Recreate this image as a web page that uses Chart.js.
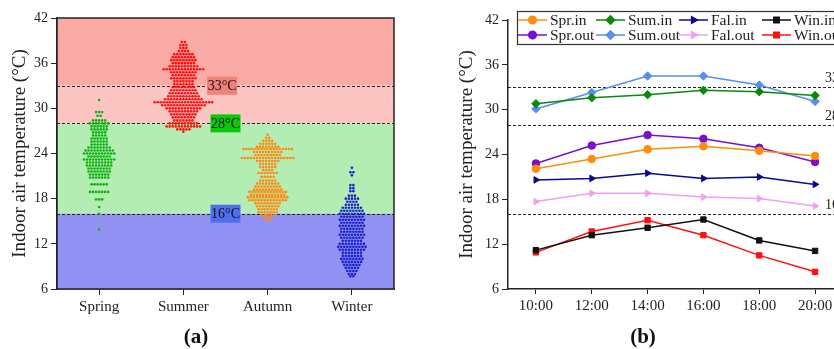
<!DOCTYPE html>
<html>
<head>
<meta charset="utf-8">
<script src="https://cdn.jsdelivr.net/npm/chart.js@4.4.1/dist/chart.umd.min.js"></script>
<style>
  body { margin: 0; width: 834px; height: 349px; overflow: hidden; background: #fff; position: relative; }
  #wrapA { position: absolute; left: 0; top: 0; width: 420px; height: 349px; }
  #wrapB { position: absolute; left: 420px; top: 0; width: 440px; height: 349px; }
  .tag { position: absolute; top: 324px; font: bold 21px "Liberation Serif", serif; color: #111; transform: translateX(-50%); }
</style>
</head>
<body>
<div id="wrapA"><canvas id="chartA" width="420" height="349"></canvas></div>
<div id="wrapB"><canvas id="chartB" width="440" height="349"></canvas></div>
<div class="tag" style="left:196px">(a)</div>
<div class="tag" style="left:643px">(b)</div>
<script>
// ---- panel (a) data: swarm rows as [temperature, number of dots] ----
const seasons = ['Spring', 'Summer', 'Autumn', 'Winter'];
const springRows = [[31.1,1],[29.5,3],[29.0,2],[28.4,5],[28.0,7],[27.6,6],[27.2,6],[26.8,5],[26.4,5],[26.0,6],
  [25.6,6],[25.2,6],[24.8,8],[24.4,10],[24.0,11],[23.6,8],[23.2,11],[22.8,9],[22.4,9],[22.0,8],[21.6,8],[21.2,7],
  [20.8,7],[19.9,6],[18.9,7],[17.9,3],[16.9,1],[16.0,1],[13.9,1]];
const summerRows = [[38.8,2],[38.4,3],[38.0,3],[37.6,4],[37.2,7],[36.8,8],[36.4,9],[36.0,8],[35.6,10],[35.2,14],
  [34.8,9],[34.4,8],[34.0,9],[33.6,7],[33.2,7],[32.8,8],[32.4,9],[32.0,10],[31.6,11],[31.2,13],[30.8,20],[30.4,15],
  [30.0,12],[29.6,10],[29.2,9],[28.8,8],[28.4,7],[28.0,10],[27.6,12],[27.2,5],[26.9,1]];
const autumnRows = [[26.5,1],[26.1,2],[25.7,4],[25.3,6],[24.9,8],[24.6,17],[24.2,10],[23.8,9],[23.4,18],[23.0,8],
  [22.6,6],[22.2,6],[21.8,4],[21.4,7],[20.9,5],[20.4,6],[20.0,8],[19.6,9],[19.2,10],[18.9,13],[18.5,12],[18.2,14],
  [17.8,13],[17.4,9],[17.0,8],[16.6,7],[16.2,7],[15.8,5],[15.4,3],[15.1,1]];
const winterRows = [[22.1,1],[21.5,2],[21.1,1],[19.8,2],[19.4,2],[19.0,2],[18.4,3],[18.0,5],[17.6,4],[17.2,5],
  [16.8,7],[16.4,8],[16.0,9],[15.6,8],[15.2,9],[14.8,8],[14.4,9],[14.0,8],[13.6,8],[13.2,9],[12.8,8],
  [12.4,7],[12.0,9],[11.6,10],[11.2,9],[10.8,7],[10.4,7],[10.0,8],[9.6,7],[9.2,6],[8.8,5],[8.4,4],[8.0,3],[7.7,2]];
const swarmColors = ['#0cb10c', '#ff1010', '#ff8a10', '#1822c8'];
const thresholds = [33, 28, 16];

// ---- panel (b) data ----
const hours = ['10:00', '12:00', '14:00', '16:00', '18:00', '20:00'];
const sprIn  = [22.1, 23.4, 24.7, 25.1, 24.5, 23.8];
const sumIn  = [30.8, 31.6, 32.0, 32.6, 32.4, 31.9];
const falIn  = [20.6, 20.8, 21.5, 20.8, 21.0, 20.0];
const winIn  = [11.2, 13.2, 14.2, 15.3, 12.5, 11.1];
const sprOut = [22.8, 25.2, 26.6, 26.1, 24.9, 23.0];
const sumOut = [30.1, 32.3, 34.5, 34.5, 33.3, 31.1];
const falOut = [17.7, 18.8, 18.8, 18.3, 18.1, 17.1];
const winOut = [10.9, 13.7, 15.2, 13.2, 10.5, 8.3];

const serif = '"Liberation Serif", "Times New Roman", serif';
const dotGap = 0.036; // horizontal distance between swarm dots (x units)

function swarm(rows, center) {
    const pts = [];
    rows.forEach(([t, n]) => {
        for (let i = 0; i < n; i++) {
            pts.push({ x: center + (i - (n - 1) / 2) * dotGap, y: t });
        }
    });
    return pts;
}

// background bands, dashed threshold lines and frame for panel (a)
const bandsPlugin = {
    id: 'bands',
    beforeDatasetsDraw(chart) {
        const { ctx, chartArea: a, scales: { y } } = chart;
        const bands = [[42, 33, 'rgb(250,170,164)'], [33, 28, 'rgb(252,197,194)'], [28, 16, 'rgb(180,237,180)'], [16, 6, 'rgb(146,146,245)']];
        ctx.save();
        bands.forEach(([hi, lo, c]) => {
            ctx.fillStyle = c;
            ctx.fillRect(a.left, y.getPixelForValue(hi), a.width, y.getPixelForValue(lo) - y.getPixelForValue(hi));
        });
        ctx.strokeStyle = '#222';
        ctx.lineWidth = 1;
        ctx.setLineDash([3, 2]);
        thresholds.forEach(t => {
            const py = Math.round(y.getPixelForValue(t)) + 0.5;
            ctx.beginPath();
            ctx.moveTo(a.left, py);
            ctx.lineTo(a.right, py);
            ctx.stroke();
        });
        ctx.restore();
    },
    afterDatasetsDraw(chart) {
        const { ctx, chartArea: a, scales: { x, y } } = chart;
        const boxes = [[33, 'rgb(240,128,120)', 1.46], [28, 'rgb(10,200,10)', 1.5], [16, 'rgb(80,110,240)', 1.5]];
        ctx.save();
        ctx.font = '14px ' + serif;
        ctx.textAlign = 'center';
        ctx.textBaseline = 'middle';
        boxes.forEach(([t, c, cx]) => {
            const px = x.getPixelForValue(cx), py = y.getPixelForValue(t);
            ctx.fillStyle = c;
            ctx.fillRect(px - 15, py - 9, 30, 18);
            ctx.fillStyle = '#111';
            ctx.fillText(t + '°C', px, py + 1);
        });
        ctx.strokeStyle = '#222';
        ctx.lineWidth = 1.5;
        ctx.setLineDash([]);
        ctx.strokeRect(a.left, a.top, a.width, a.height);
        ctx.restore();
    }
};

new Chart(document.getElementById('chartA'), {
    type: 'scatter',
    data: {
        datasets: [springRows, summerRows, autumnRows, winterRows].map((rows, i) => ({
            label: seasons[i],
            data: swarm(rows, i),
            backgroundColor: swarmColors[i],
            borderWidth: 0,
            pointRadius: 1.3
        }))
    },
    options: {
        responsive: false,
        animation: false,
        layout: { padding: { left: 0, top: 18, right: 26, bottom: 0 } },
        plugins: { legend: { display: false }, tooltip: { enabled: false } },
        scales: {
            x: {
                type: 'linear', min: -0.5, max: 3.5,
                afterBuildTicks: s => { s.ticks = seasons.map((_, i) => ({ value: i })); },
                afterFit: s => { s.height = 60; },
                ticks: { callback: v => seasons[v], font: { family: serif, size: 15 }, color: '#222', padding: 3, maxRotation: 0 },
                grid: { drawOnChartArea: false, tickLength: 6, tickColor: '#222' },
                border: { color: '#222', width: 1.5 }
            },
            y: {
                min: 6, max: 42,
                afterFit: s => { s.width = 57; },
                ticks: { stepSize: 6, font: { family: serif, size: 14 }, color: '#222', padding: 3 },
                grid: { drawOnChartArea: false, tickLength: 6, tickColor: '#222' },
                border: { color: '#222', width: 1.5 },
                title: { display: true, text: 'Indoor air temperature (°C)', font: { family: serif, size: 19 }, color: '#222', padding: { top: 9, bottom: 0 } }
            }
        }
    },
    plugins: [bandsPlugin]
});

// dashed lines, their labels and the boxed legend for panel (b)
const linesPlugin = {
    id: 'lines',
    beforeDatasetsDraw(chart) {
        const { ctx, chartArea: a, scales: { y } } = chart;
        ctx.save();
        ctx.strokeStyle = '#222';
        ctx.lineWidth = 1;
        ctx.setLineDash([3, 2]);
        ctx.font = '14px ' + serif;
        ctx.fillStyle = '#222';
        ctx.textBaseline = 'alphabetic';
        thresholds.forEach(t => {
            const py = Math.round(y.getPixelForValue(t)) + 0.5;
            ctx.beginPath();
            ctx.moveTo(a.left, py);
            ctx.lineTo(a.right, py);
            ctx.stroke();
            ctx.fillText(t + '°C', 405, py - 6);
        });
        ctx.restore();
    },
    afterDatasetsDraw(chart) {
        const { ctx } = chart;
        const ds = chart.data.datasets;
        ctx.save();
        ctx.fillStyle = '#fff';
        ctx.fillRect(97, 11, 360, 33);
        ctx.strokeStyle = '#333';
        ctx.lineWidth = 1.2;
        ctx.strokeRect(97.5, 11.5, 360, 33);
        const cols = [98, 176, 259, 342];
        const rows = [20, 35];
        ctx.font = '15.5px ' + serif;
        ctx.textBaseline = 'middle';
        ds.forEach((d, i) => {
            const lx = cols[i % 4], ly = rows[Math.floor(i / 4)];
            ctx.strokeStyle = d.borderColor;
            ctx.lineWidth = 1.5;
            ctx.beginPath();
            ctx.moveTo(lx, ly);
            ctx.lineTo(lx + 29, ly);
            ctx.stroke();
            Chart.helpers.drawPoint(ctx, {
                pointStyle: d.pointStyle, radius: d.pointRadius, rotation: d.pointRotation || 0, borderWidth: 1
            }, lx + 14.5, ly);
            ctx.fillStyle = d.borderColor;
            ctx.fill();
            ctx.fillStyle = '#222';
            ctx.fillText(d.label, lx + 32, ly + 1);
        });
        ctx.restore();
    }
};

function line(label, data, color, style, rot) {
    return {
        label, data,
        borderColor: color, backgroundColor: color,
        borderWidth: 1.5, pointStyle: style, pointRotation: rot || 0,
        pointRadius: style === 'rectRot' ? 4.2 : 3.8, pointBorderWidth: 1, tension: 0
    };
}

new Chart(document.getElementById('chartB'), {
    type: 'line',
    data: {
        labels: hours,
        datasets: [
            line('Spr.in', sprIn, '#ff8c0a', 'circle'),
            line('Sum.in', sumIn, '#0a8a0a', 'rectRot'),
            line('Fal.in', falIn, '#0a0a90', 'triangle', 90),
            line('Win.in', winIn, '#111111', 'rect'),
            line('Spr.out', sprOut, '#7a10cc', 'circle'),
            line('Sum.out', sumOut, '#5a8cf2', 'rectRot'),
            line('Fal.out', falOut, '#f0a0f0', 'triangle', 90),
            line('Win.out', winOut, '#ff1010', 'rect')
        ]
    },
    options: {
        responsive: false,
        animation: false,
        layout: { padding: { left: 0, top: 20, right: 17, bottom: 0 } },
        plugins: { legend: { display: false }, tooltip: { enabled: false } },
        scales: {
            x: {
                offset: true,
                afterFit: s => { s.height = 60; },
                ticks: { font: { family: serif, size: 15 }, color: '#222', padding: 3, maxRotation: 0 },
                grid: { drawOnChartArea: false, offset: false, tickLength: 5, tickColor: '#222' },
                border: { color: '#222', width: 1.5 }
            },
            y: {
                min: 6, max: 42,
                afterFit: s => { s.width = 88; },
                ticks: { stepSize: 6, font: { family: serif, size: 14 }, color: '#222', padding: 3 },
                grid: { drawOnChartArea: false, tickLength: 6, tickColor: '#222' },
                border: { color: '#222', width: 1.5 },
                title: { display: true, text: 'Indoor air temperature (°C)', font: { family: serif, size: 19 }, color: '#222', padding: { top: 36, bottom: 0 } }
            }
        }
    },
    plugins: [linesPlugin]
});
</script>
</body>
</html>
